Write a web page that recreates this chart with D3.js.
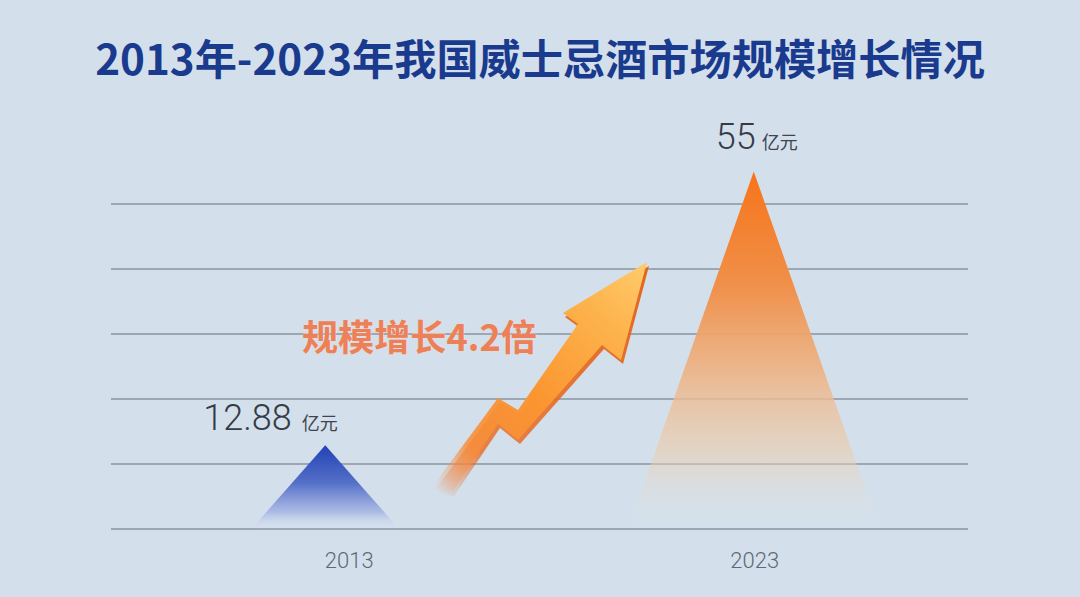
<!DOCTYPE html>
<html><head><meta charset="utf-8">
<script src="https://cdn.jsdelivr.net/npm/d3@7/dist/d3.min.js"></script>
<style>
html,body{margin:0;padding:0;background:#d3e0ec;}
svg{display:block;}
</style></head>
<body><svg id="c" width="1080" height="597"></svg>
<script>
const title = "2013年-2023年我国威士忌酒市场规模增长情况";
const years = ["2013", "2023"];
const values = [12.88, 55];
const valueLabels = ["12.88", "55"];
const unitLabel = "亿元";
const gridTicks = [0, 10, 20, 30, 40, 50];
const growthText = "规模增长4.2倍";

const W = 1080, H = 597;
const svg = d3.select("#c");
const defs = svg.append("defs");

svg.append("rect").attr("width", W).attr("height", H).attr("fill", "#d3e0ec");

const x = d3.scaleBand().domain(years).range([111, 968]).padding(0);
const y = d3.scaleLinear().domain([0, 50]).range([529, 204]);
const halfW = d3.scaleLinear().domain([0, 60]).range([58, 132]);

// title
const t = svg.append("text").text(title)
  .attr("x", W / 2).attr("y", 56)
  .attr("text-anchor", "middle").attr("dominant-baseline", "central")
  .attr("font-family", "'Noto Sans CJK SC', sans-serif")
  .attr("font-weight", 700).attr("font-size", 40)
  .attr("fill", "#1a3a8e");
const tw = t.node().getComputedTextLength();
t.attr("font-size", 40 * 890 / tw);

// gridlines
svg.append("g").selectAll("line").data(gridTicks).join("line")
  .attr("x1", x.range()[0]).attr("x2", x.range()[1])
  .attr("y1", d => y(d)).attr("y2", d => y(d))
  .attr("stroke", "#8a94a0").attr("stroke-width", 1.4);

// gradients for triangles
const g1 = defs.append("linearGradient").attr("id", "gBlue").attr("x1", 0).attr("y1", 0).attr("x2", 0).attr("y2", 1);
g1.append("stop").attr("offset", "0%").attr("stop-color", "#2242b6");
g1.append("stop").attr("offset", "45%").attr("stop-color", "#5570c8");
g1.append("stop").attr("offset", "80%").attr("stop-color", "#a8b7e4").attr("stop-opacity", 0.9);
g1.append("stop").attr("offset", "100%").attr("stop-color", "#d6def0").attr("stop-opacity", 0);

const g2 = defs.append("linearGradient").attr("id", "gOrange").attr("x1", 0).attr("y1", 0).attr("x2", 0).attr("y2", 1);
g2.append("stop").attr("offset", "0%").attr("stop-color", "#f6741a");
g2.append("stop").attr("offset", "32%").attr("stop-color", "#f0904a");
g2.append("stop").attr("offset", "55%").attr("stop-color", "#edb283").attr("stop-opacity", 0.92);
g2.append("stop").attr("offset", "78%").attr("stop-color", "#ecccac").attr("stop-opacity", 0.6);
g2.append("stop").attr("offset", "93%").attr("stop-color", "#e8dccd").attr("stop-opacity", 0.15);
g2.append("stop").attr("offset", "100%").attr("stop-color", "#e8dccd").attr("stop-opacity", 0);

const fills = ["url(#gBlue)", "url(#gOrange)"];
const data = years.map((yr, i) => ({ yr, v: values[i], lab: valueLabels[i], fill: fills[i] }));

svg.append("g").selectAll("path").data(data).join("path")
  .attr("d", d => {
    const cx = x(d.yr) + x.bandwidth() / 2;
    const hw = halfW(d.v);
    return `M${cx},${y(d.v)}L${cx + hw},${y(0)}L${cx - hw},${y(0)}Z`;
  })
  .attr("fill", d => d.fill);

// value labels
const lab = svg.append("g").selectAll("text").data(data).join("text")
  .attr("x", (d, i) => x(d.yr) + x.bandwidth() / 2 + (i === 0 ? -122 : -38))
  .attr("y", (d, i) => y(d.v) - (i === 0 ? 15 : 23))
  .attr("font-family", "Roboto, sans-serif")
  .attr("fill", "#353c46");
lab.append("tspan").text(d => d.lab).attr("font-size", 36).attr("font-weight", 300);
lab.append("tspan").text(unitLabel).attr("dx", (d, i) => i === 0 ? 10 : 6)
  .attr("font-family", "'Noto Sans CJK SC', sans-serif")
  .attr("font-size", 18).attr("font-weight", 400).attr("fill", "#3e4550");

// x labels
svg.append("g").selectAll("text").data(data).join("text")
  .text(d => d.yr)
  .attr("x", (d, i) => x(d.yr) + x.bandwidth() / 2 + (i === 0 ? 24 : 1))
  .attr("y", 568)
  .attr("text-anchor", "middle")
  .attr("font-family", "Roboto, sans-serif").attr("font-weight", 300)
  .attr("font-size", 22).attr("fill", "#5f6873");

// growth arrow (decorative annotation)
const ag = defs.append("linearGradient").attr("id", "gArrow").attr("gradientUnits", "userSpaceOnUse")
  .attr("x1", 435).attr("y1", 490).attr("x2", 640).attr("y2", 270);
ag.append("stop").attr("offset", "0%").attr("stop-color", "#f5a070").attr("stop-opacity", 0);
ag.append("stop").attr("offset", "18%").attr("stop-color", "#f78d3a").attr("stop-opacity", 0.85);
ag.append("stop").attr("offset", "45%").attr("stop-color", "#fb9530");
ag.append("stop").attr("offset", "80%").attr("stop-color", "#fdb34c");
ag.append("stop").attr("offset", "100%").attr("stop-color", "#ffc868");
const as = defs.append("linearGradient").attr("id", "gArrowS").attr("gradientUnits", "userSpaceOnUse")
  .attr("x1", 435).attr("y1", 490).attr("x2", 640).attr("y2", 270);
as.append("stop").attr("offset", "0%").attr("stop-color", "#e86a20").attr("stop-opacity", 0);
as.append("stop").attr("offset", "20%").attr("stop-color", "#e86a20").attr("stop-opacity", 0.8);
as.append("stop").attr("offset", "100%").attr("stop-color", "#e4661c");

const arrowPts = [[430,490],[498,398],[518,410],[578,324],[563,313],[647,262],[621,360],[602,345],[518,440],[498,424],[452,492]];
const arrowLine = d3.line().curve(d3.curveLinearClosed);
svg.append("path").attr("d", arrowLine(arrowPts.map(p => [p[0] + 2, p[1] + 4])))
  .attr("fill", "url(#gArrowS)");
svg.append("path").attr("d", arrowLine(arrowPts)).attr("fill", "url(#gArrow)");

// growth text
const gt = svg.append("text").text(growthText)
  .attr("x", 302).attr("y", 335)
  .attr("dominant-baseline", "central")
  .attr("font-family", "'Noto Sans CJK SC', sans-serif")
  .attr("font-weight", 700).attr("font-size", 30)
  .attr("fill", "#ec8058")
  .attr("stroke", "#f6d6c6").attr("stroke-width", 0.6).attr("paint-order", "stroke");
const gw = gt.node().getComputedTextLength();
gt.attr("font-size", 30 * 235 / gw);
</script>
</body></html>
